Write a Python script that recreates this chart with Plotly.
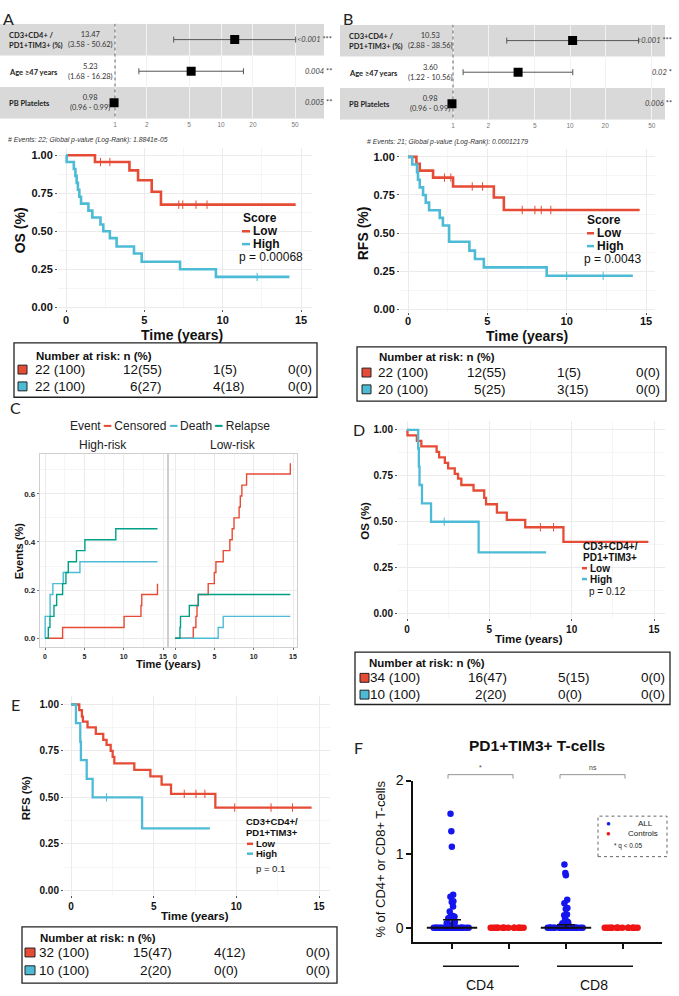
import plotly.graph_objects as go

W, H = 679, 996
RED = '#E64B35'
CYAN = '#4DBBD5'
GREEN = '#00A087'
SANS = 'Liberation Sans, Arial, sans-serif'
CAL = 'Lato, Open Sans, sans-serif'

# ---------------- data ----------------
forest_vars = ['CD3+CD4+ /<br>PD1+TIM3+ (%)', 'Age ≥47 years', 'PB Platelets']
forest_rows = [1, 2, 3]
forest_ticks = [1, 2, 5, 10, 20, 50]
forestA_hr = [13.47, 5.23, 0.98]
forestA_lo = [3.58, 1.68, 0.96]
forestA_hi = [50.62, 16.28, 0.99]
forestA_p = ['<0.001', '0.004', '0.005']
forestA_star = ['***', '**', '**']
forestB_hr = [10.53, 3.60, 0.98]
forestB_lo = [2.88, 1.22, 0.96]
forestB_hi = [38.56, 10.56, 0.99]
forestB_p = ['<0.001', '0.02', '0.006']
forestB_star = ['***', '*', '**']
forestA_note = '# Events: 22; Global p-value (Log-Rank): 1.8841e-05'
forestB_note = '# Events: 21; Global p-value (Log-Rank): 0.00012179'

# Panel A: OS by score
A_low_t = [0, 1.85, 4.05, 4.6, 5.47, 6.06]
A_low_s = [1.0, 0.955, 0.90, 0.835, 0.76, 0.675]
A_low_end = 14.66
A_low_cens_t = [2.2, 2.8, 7.2, 7.45, 8.3, 9.0]
A_low_cens_s = [0.955, 0.955, 0.675, 0.675, 0.675, 0.675]
A_high_t = [0, 0.04, 0.5, 0.6, 0.68, 0.76, 0.85, 0.96, 1.43, 1.68, 2.2, 2.38, 2.8, 3.23, 4.34, 4.83, 7.28, 9.57]
A_high_s = [1.0, 0.955, 0.909, 0.864, 0.818, 0.773, 0.727, 0.682, 0.636, 0.591, 0.545, 0.50, 0.455, 0.40, 0.354, 0.30, 0.25, 0.20]
A_high_end = 14.26
A_high_cens_t = [12.2]
A_high_cens_s = [0.20]

# Panel B: RFS by score
B_low_t = [0, 0.53, 0.74, 1.58, 2.84, 5.41, 6.04]
B_low_s = [1.0, 0.955, 0.91, 0.864, 0.806, 0.734, 0.652]
B_low_end = 14.6
B_low_cens_t = [2.3, 2.7, 4.05, 4.7, 7.2, 8.0, 8.4, 9.0]
B_low_cens_s = [0.864, 0.864, 0.806, 0.806, 0.652, 0.652, 0.652, 0.652]
B_high_t = [0, 0.27, 0.57, 0.63, 0.74, 0.95, 1.12, 1.33, 2.0, 2.2, 2.59, 3.87, 4.22, 4.78, 8.74]
B_high_s = [1.0, 0.95, 0.90, 0.85, 0.80, 0.75, 0.70, 0.65, 0.60, 0.55, 0.443, 0.385, 0.33, 0.275, 0.22]
B_high_end = 14.17
B_high_cens_t = [10.0, 12.3]
B_high_cens_s = [0.22, 0.22]

# Panel C: cumulative events
C_high_relapse_t = [0, 0.42, 0.63, 1.14, 1.48, 2.24, 2.66, 2.96, 4.0, 5.07, 9.0, 14.3]
C_high_relapse_v = [0, 0.045, 0.091, 0.136, 0.182, 0.227, 0.273, 0.318, 0.364, 0.409, 0.455, 0.455]
C_high_death_t = [0, 0.02, 0.65, 1.0, 2.32, 4.44, 14.3]
C_high_death_v = [0, 0.091, 0.182, 0.227, 0.273, 0.318, 0.318]
C_high_cens_t = [0, 2.24, 10.05, 12.2, 12.3, 14.3]
C_high_cens_v = [0, 0.045, 0.091, 0.136, 0.182, 0.227]
C_low_relapse_t = [0, 0.63, 0.7, 1.82, 2.96, 14.66]
C_low_relapse_v = [0, 0.045, 0.091, 0.136, 0.182, 0.182]
C_low_death_t = [0, 5.49, 6.13, 14.66]
C_low_death_v = [0, 0.045, 0.091, 0.091]
C_low_cens_t = [0, 2.32, 2.66, 2.8, 2.96, 4.22, 5.0, 5.2, 6.13, 6.97, 7.27, 7.5, 8.15, 8.3, 8.5, 9.1, 14.66]
C_low_cens_v = [0, 0.045, 0.091, 0.136, 0.182, 0.227, 0.273, 0.318, 0.364, 0.409, 0.455, 0.50, 0.545, 0.591, 0.636, 0.682, 0.727]
C_ticks_y = [0, 0.2, 0.4, 0.6]
C_ticks_x = [0, 5, 10, 15]

# Panel D: OS by CD3+CD4+/PD1+TIM3+
D_low_t = [0, 0.03, 0.6, 0.87, 1.8, 1.95, 2.3, 2.5, 2.9, 3.1, 3.3, 4.04, 4.69, 4.8, 5.46, 6.06, 7.18, 9.5]
D_low_s = [1.0, 0.97, 0.94, 0.91, 0.88, 0.85, 0.82, 0.79, 0.76, 0.735, 0.70, 0.67, 0.63, 0.595, 0.55, 0.51, 0.47, 0.39]
D_low_end = 14.66
D_low_cens_t = [8.1, 8.9]
D_low_cens_s = [0.47, 0.47]
D_high_t = [0, 0.68, 0.72, 0.76, 0.91, 1.46, 4.35]
D_high_s = [1.0, 0.9, 0.8, 0.7, 0.6, 0.5, 0.333]
D_high_end = 8.45
D_high_cens_t = [2.26]
D_high_cens_s = [0.5]

# Panel E: RFS by CD3+CD4+/PD1+TIM3+
E_low_t = [0, 0.5, 0.66, 0.72, 1.0, 1.5, 1.95, 2.15, 2.4, 2.52, 2.62, 3.83, 4.8, 5.48, 6.05, 8.73]
E_low_s = [1.0, 0.97, 0.935, 0.908, 0.877, 0.842, 0.81, 0.783, 0.75, 0.718, 0.683, 0.648, 0.613, 0.569, 0.519, 0.445]
E_low_end = 14.55
E_low_cens_t = [6.85, 7.56, 8.1, 9.9, 12.1, 13.4]
E_low_cens_s = [0.519, 0.519, 0.519, 0.445, 0.445, 0.445]
E_high_t = [0, 0.3, 0.56, 0.6, 0.95, 1.31, 4.3]
E_high_s = [1.0, 0.9, 0.8, 0.7, 0.6, 0.5, 0.333]
E_high_end = 8.4
E_high_cens_t = [2.15]
E_high_cens_s = [0.5]

# Risk tables
risk_A = [['22 (100)', '12(55)', '1(5)', '0(0)'], ['22 (100)', '6(27)', '4(18)', '0(0)']]
risk_B = [['22 (100)', '12(55)', '1(5)', '0(0)'], ['20 (100)', '5(25)', '3(15)', '0(0)']]
risk_D = [['34 (100)', '16(47)', '5(15)', '0(0)'], ['10 (100)', '2(20)', '0(0)', '0(0)']]
risk_E = [['32 (100)', '15(47)', '4(12)', '0(0)'], ['10 (100)', '2(20)', '0(0)', '0(0)']]

# Panel F: PD1+TIM3+ T-cells (% of CD4+ or CD8+)
F_cd4_all = [1.55, 1.31, 1.10, 0.45, 0.42, 0.36, 0.35, 0.29, 0.22, 0.17, 0.16, 0.15, 0.13, 0.08,
             0.06, 0.05, 0.04, 0, 0, 0, 0, 0, 0, 0, 0, 0, 0, 0, 0, 0, 0, 0, 0, 0, 0, 0, 0, 0,
             0, 0, 0, 0, 0, 0]
F_cd4_ctrl = [0, 0, 0, 0, 0, 0, 0, 0, 0, 0, 0, 0, 0, 0, 0]
F_cd8_all = [0.86, 0.745, 0.715, 0.38, 0.335, 0.268, 0.254, 0.18, 0.17, 0.12, 0.09, 0.076, 0.062,
             0.04, 0.03, 0, 0, 0, 0, 0, 0, 0, 0, 0, 0, 0, 0, 0, 0, 0, 0, 0, 0, 0, 0, 0, 0, 0,
             0, 0, 0, 0, 0, 0]
F_cd8_ctrl = [0, 0, 0, 0, 0, 0, 0, 0, 0, 0, 0, 0, 0, 0, 0]
F_pos = [0, 1, 2, 3]
F_all_median = [0, 0]
F_all_q3 = [0.11, 0.04]
F_yticks = [0, 1, 2]

# ---------------- helpers ----------------
fig = go.Figure()
layout = {}
annotations = []
shapes = []


def X(px):
    return px / W


def Y(py):
    return 1 - py / H


def names(n):
    return ('x' if n == 1 else f'x{n}'), ('y' if n == 1 else f'y{n}')


def keys(n):
    return ('xaxis' if n == 1 else f'xaxis{n}'), ('yaxis' if n == 1 else f'yaxis{n}')


def lin_range(p_lo, p_hi, va, pa, vb, pb):
    k = (vb - va) / (pb - pa)
    return [va + (p_lo - pa) * k, va + (p_hi - pa) * k]


def ann(x, y, text, size=12, xanchor='center', color='#111', family=SANS, angle=0, **kw):
    annotations.append(dict(x=X(x), y=Y(y), xref='paper', yref='paper', text=text, showarrow=False,
                            xanchor=xanchor, yanchor='middle', textangle=angle,
                            font=dict(size=size, color=color, family=family), **kw))


def pline(x0, y0, x1, y1, color='#111', width=1, dash='solid'):
    shapes.append(dict(type='line', xref='paper', yref='paper', x0=X(x0), y0=Y(y0), x1=X(x1), y1=Y(y1),
                       line=dict(color=color, width=width, dash=dash)))


def prect(x0, y0, x1, y1, line='#111', fill='rgba(0,0,0,0)', width=1, dash='solid'):
    shapes.append(dict(type='rect', xref='paper', yref='paper', x0=X(x0), y0=Y(y1), x1=X(x1), y1=Y(y0),
                       line=dict(color=line, width=width, dash=dash), fillcolor=fill))


# ---------------- forest plots ----------------
def forest(n, left, right, top, bottom, one_px, decade_px, hr, lo, hi, pv, stars,
           lab_x, hr_x, p_x, note, note_x, note_y, letter, letter_x):
    xa, ya = names(n)
    kx, ky = keys(n)
    lr = lin_range(left, right, 0, one_px, 1, one_px + decade_px)
    layout[kx] = dict(domain=[X(left), X(right)], type='log', range=lr, anchor=ya,
                      tickvals=forest_ticks, ticktext=[str(v) for v in forest_ticks],
                      tickfont=dict(size=6.5, color='#777', family=SANS), ticks='',
                      showgrid=True, gridcolor='#f2f2f2', gridwidth=1, zeroline=False,
                      showline=False, ticklabelstandoff=1)
    layout[ky] = dict(domain=[Y(bottom), Y(top)], range=[3.5, 0.5], anchor=xa, showgrid=False,
                      zeroline=False, showticklabels=False, ticks='')
    for r in (1, 3):
        shapes.append(dict(type='rect', xref=f'{xa} domain', yref=ya, x0=0, x1=1, y0=r - 0.5, y1=r + 0.5,
                           fillcolor='#d9d9d9', line=dict(width=0), layer='below'))
    fig.add_trace(go.Scatter(x=[1, 1], y=[0.3, 3.5], mode='lines', xaxis=xa, yaxis=ya,
                             line=dict(color='#666', width=1, dash='dot'), showlegend=False,
                             hoverinfo='skip', cliponaxis=False))
    fig.add_trace(go.Scatter(
        x=hr, y=forest_rows, mode='markers', xaxis=xa, yaxis=ya, showlegend=False, hoverinfo='skip',
        marker=dict(symbol='square', size=9, color='black'),
        error_x=dict(type='data', symmetric=False, array=[h - m for h, m in zip(hi, hr)],
                     arrayminus=[m - l for m, l in zip(hr, lo)], color='#555', thickness=1, width=3)))
    row_px = [(top + (bottom - top) * (i + 0.5) / 3) for i in range(3)]
    for i in range(3):
        ann(lab_x, row_px[i] + 1, f'<b>{forest_vars[i]}</b>', size=7.5, xanchor='left', family=CAL,
            color='#222', align='left')
        ann(hr_x, row_px[i], f'{hr[i]:.2f}<br>({lo[i]:.2f} - {hi[i]:.2f})', size=7.5, family=CAL,
            color='#333')
        ann(p_x, row_px[i], f'<i>{pv[i]}</i> {stars[i]}', size=7.5, xanchor='right', family=CAL,
            color='#444')
    ann(note_x, note_y, f'<i>{note}</i>', size=6.8, xanchor='left', family=SANS, color='#333')
    ann(letter_x, 11, letter, size=16, xanchor='left', family=CAL, color='#222')


forest(1, 0, 324, 16, 112, 115, 106, forestA_hr, forestA_lo, forestA_hi, forestA_p, forestA_star,
       7, 90, 334, forestA_note, 6, 134, 'A', 1)
forest(2, 340, 665, 17, 113, 453, 117, forestB_hr, forestB_lo, forestB_hi, forestB_p, forestB_star,
       347, 430, 674, forestB_note, 365, 136, 'B', 341)


# ---------------- KM plots ----------------
def km_axes(n, l, r, t, b, x0, x15, y0, y1, tsize, standoff=0):
    xa, ya = names(n)
    kx, ky = keys(n)
    tf = dict(family=SANS, size=tsize, color='#111', weight='bold')
    layout[kx] = dict(domain=[X(l), X(r)], range=lin_range(l, r, 0, x0, 15, x15), anchor=ya,
                      tickvals=[0, 5, 10, 15], showgrid=True, gridcolor='#ebebeb', zeroline=False,
                      minor=dict(dtick=2.5, tick0=0, showgrid=True, gridcolor='#f5f5f5'),
                      ticks='outside', ticklen=2, tickcolor='#555', showline=False, tickfont=tf,
                      ticklabelstandoff=standoff)
    layout[ky] = dict(domain=[Y(b), Y(t)], range=lin_range(b, t, 0, y0, 1, y1), anchor=xa,
                      tickvals=[0, 0.25, 0.5, 0.75, 1.0],
                      ticktext=['0.00', '0.25', '0.50', '0.75', '1.00'],
                      showgrid=True, gridcolor='#ebebeb', zeroline=False,
                      minor=dict(dtick=0.125, tick0=0, showgrid=True, gridcolor='#f5f5f5'),
                      ticks='outside', ticklen=2, tickcolor='#555', showline=False, tickfont=tf)


def km_curve(n, t, s, end, color, ct=None, cs=None, width=2.6):
    xa, ya = names(n)
    xs = list(t) + ([end] if end is not None else [])
    ys = list(s) + ([s[-1]] if end is not None else [])
    fig.add_trace(go.Scatter(x=xs, y=ys, mode='lines', xaxis=xa, yaxis=ya, showlegend=False,
                             hoverinfo='skip', line=dict(color=color, width=width, shape='hv')))
    if ct:
        fig.add_trace(go.Scatter(x=ct, y=cs, mode='markers', xaxis=xa, yaxis=ya, showlegend=False,
                                 hoverinfo='skip',
                                 marker=dict(symbol='line-ns-open', size=6, color=color,
                                             line=dict(color=color, width=1))))


km_axes(3, 58, 312, 142, 305, 66, 301, 303, 149, 11, -2)
km_curve(3, A_low_t, A_low_s, A_low_end, RED, A_low_cens_t, A_low_cens_s)
km_curve(3, A_high_t, A_high_s, A_high_end, CYAN, A_high_cens_t, A_high_cens_s)

km_axes(4, 400, 655, 143, 308, 408, 646, 305, 150.7, 11, -3)
km_curve(4, B_low_t, B_low_s, B_low_end, RED, B_low_cens_t, B_low_cens_s)
km_curve(4, B_high_t, B_high_s, B_high_end, CYAN, B_high_cens_t, B_high_cens_s)

km_axes(7, 398, 665, 418, 617, 407, 654, 613, 427, 10)
km_curve(7, D_low_t, D_low_s, D_low_end, RED, D_low_cens_t, D_low_cens_s, width=2.3)
km_curve(7, D_high_t, D_high_s, D_high_end, CYAN, D_high_cens_t, D_high_cens_s, width=2.3)

km_axes(8, 64, 330, 696, 898, 71, 319, 893, 705, 10)
km_curve(8, E_low_t, E_low_s, E_low_end, RED, E_low_cens_t, E_low_cens_s, width=2.3)
km_curve(8, E_high_t, E_high_s, E_high_end, CYAN, E_high_cens_t, E_high_cens_s, width=2.3)

# KM axis titles
ann(20, 225, '<b>OS (%)</b>', size=14, angle=-90)
ann(182, 331, '<b>Time (years)</b>', size=14)
ann(363, 228, '<b>RFS (%)</b>', size=14, angle=-90)
ann(527, 332, '<b>Time (years)</b>', size=14)
ann(365, 519, '<b>OS (%)</b>', size=11.5, angle=-90)
ann(529, 639, '<b>Time (years)</b>', size=11.5)
ann(26, 800, '<b>RFS (%)</b>', size=11.5, angle=-90)
ann(195, 919, '<b>Time (years)</b>', size=11.5)


# KM legends
def km_legend(x, ys, title_lines, dash_x, p_text, p_x, p_y, size):
    for (txt, yy) in zip(title_lines, ys[:len(title_lines)]):
        ann(x, yy, f'<b>{txt}</b>', size=size, xanchor='left')
    ylow, yhigh = ys[len(title_lines)], ys[len(title_lines) + 1]
    pline(dash_x[0], ylow, dash_x[1], ylow, RED, 2.5)
    pline(dash_x[0], yhigh, dash_x[1], yhigh, CYAN, 2.5)
    ann(dash_x[1] + 1, ylow, '<b>Low</b>', size=size, xanchor='left')
    ann(dash_x[1] + 1, yhigh, '<b>High</b>', size=size, xanchor='left')
    ann(p_x, p_y, p_text, size=size, xanchor='left')


km_legend(241, [213, 226, 239], ['Score'], (242, 250), 'p = 0.00068', 237, 252, 12)
km_legend(585, [215, 228, 241], ['Score'], (587, 594), 'p = 0.0043', 582, 254, 12)
km_legend(581, [545, 556, 567, 578], ['CD3+CD4+/', 'PD1+TIM3+'], (582, 587), 'p = 0.12', 587, 591, 10)
km_legend(244, [823, 835, 846, 856], ['CD3+CD4+/', 'PD1+TIM3+'], (247, 253), 'p = 0.1', 254, 871, 9.5)


# Risk tables
def risk_table(rows, box, title_xy, row_y, sq_x, cols):
    l, t, r, b = box
    prect(l, t, r, b, line='#222', width=1.3)
    ann(title_xy[0], title_xy[1], '<b>Number at risk: n (%)</b>', size=11.5, xanchor='left')
    for ri, (vals, yy, col) in enumerate(zip(rows, row_y, (RED, CYAN))):
        prect(sq_x[0], yy - 4.5, sq_x[1], yy + 4.5, line='#222', fill=col, width=1)
        anchors = ['left', 'right', 'left', 'right']
        for v, cx, a in zip(vals, cols, anchors):
            ann(cx, yy, v, size=13.5, xanchor=a)


risk_table(risk_A, (14, 339, 317, 394), (34, 352), (366, 383), (18, 27), (33, 164, 211, 314))
risk_table(risk_B, (357, 343, 666, 398), (377, 353), (369, 386), (362, 371), (376, 508, 555, 662))
risk_table(risk_D, (355, 652, 670, 705), (367, 663), (678, 695), (360, 369), (368, 509, 556, 667))
risk_table(risk_E, (22, 930, 337, 987), (38, 941), (956, 974), (25, 35), (37, 174, 212, 332))


# ---------------- Panel C ----------------
def c_axes(n, l, r, x0, x15, show_y):
    xa, ya = names(n)
    kx, ky = keys(n)
    layout[kx] = dict(domain=[X(l), X(r)], range=lin_range(l, r, 0, x0, 15, x15), anchor=ya,
                      tickvals=C_ticks_x, showgrid=True, gridcolor='#ebebeb', zeroline=False,
                      minor=dict(dtick=2.5, tick0=0, showgrid=True, gridcolor='#f5f5f5'),
                      ticks='outside', ticklen=2, tickcolor='#777', showline=True, mirror=True,
                      linecolor='#cfcfcf', linewidth=1.2,
                      tickfont=dict(family=SANS, size=7, color='#222', weight='bold'))
    layout[ky] = dict(domain=[Y(647), Y(451)], range=lin_range(647, 451, 0, 638, 0.6, 491.7),
                      anchor=xa, tickvals=C_ticks_y, ticktext=['0.0', '0.2', '0.4', '0.6'],
                      showticklabels=show_y, showgrid=True, gridcolor='#ebebeb', zeroline=False,
                      minor=dict(dtick=0.1, tick0=0, showgrid=True, gridcolor='#f5f5f5'),
                      ticks='outside' if show_y else '', ticklen=2, tickcolor='#777',
                      showline=True, mirror=True, linecolor='#cfcfcf', linewidth=1.2,
                      tickfont=dict(family=SANS, size=8, color='#222', weight='bold'))


c_axes(5, 40, 167, 45, 163, True)
c_axes(6, 169, 297, 175, 293, False)
for n, series in ((5, [(C_high_cens_t, C_high_cens_v, RED), (C_high_death_t, C_high_death_v, CYAN),
                       (C_high_relapse_t, C_high_relapse_v, GREEN)]),
                  (6, [(C_low_cens_t, C_low_cens_v, RED), (C_low_death_t, C_low_death_v, CYAN),
                       (C_low_relapse_t, C_low_relapse_v, GREEN)])):
    for t, v, col in series:
        km_curve(n, t, v, None, col, width=1.4)

ann(8, 404, 'C', size=16, xanchor='left', family=CAL, color='#222')
ann(170, 423, 'Event <span style="color:%s">━</span> Censored <span style="color:%s">━</span> Death '
    '<span style="color:%s">━</span> Relapse' % (RED, CYAN, GREEN), size=12, color='#222')
ann(103, 442, 'High-risk', size=12, color='#222')
ann(233, 442, 'Low-risk', size=12, color='#222')
ann(19, 550, '<b>Events (%)</b>', size=11, angle=-90)
ann(168, 664, '<b>Time (years)</b>', size=11)

# ---------------- Panel letters D/E/F ----------------
ann(351, 427, 'D', size=16, xanchor='left', family=CAL, color='#222')
ann(9, 705, 'E', size=16, xanchor='left', family=CAL, color='#222')
ann(352, 749, 'F', size=16, xanchor='left', family=CAL, color='#222')

# ---------------- Panel F ----------------
xa, ya = names(9)
kx, ky = keys(9)
layout[kx] = dict(domain=[X(413), X(662)], range=lin_range(413, 662, 0, 452, 3, 623), anchor=ya,
                  tickvals=F_pos, ticktext=['', '', '', ''], ticks='outside', ticklen=6, tickwidth=1.5,
                  tickcolor='#111', showline=True, linecolor='#111', linewidth=1.5, showgrid=False,
                  zeroline=False)
layout[ky] = dict(domain=[Y(945), Y(782)], range=lin_range(945, 782, 0, 931, 2, 782), anchor=xa,
                  tickvals=F_yticks, ticks='outside', ticklen=5, tickwidth=1.5, tickcolor='#111',
                  showline=True, linecolor='#111', linewidth=1.5, showgrid=False, zeroline=False,
                  tickfont=dict(family=SANS, size=14, color='#111'))
for pos, vals, col in zip(F_pos, (F_cd4_all, F_cd4_ctrl, F_cd8_all, F_cd8_ctrl),
                          ('#1515f0', '#f01515', '#1515f0', '#f01515')):
    fig.add_trace(go.Box(x=[pos] * len(vals), y=vals, boxpoints='all', jitter=1, pointpos=0,
                         width=0.66, fillcolor='rgba(0,0,0,0)', line=dict(width=0, color='rgba(0,0,0,0)'),
                         marker=dict(color=col, size=6.5), xaxis=xa, yaxis=ya, showlegend=False,
                         hoverinfo='skip'))
fig.add_trace(go.Scatter(x=[F_pos[0], F_pos[2]], y=F_all_median, mode='markers', xaxis=xa, yaxis=ya,
                         showlegend=False, hoverinfo='skip',
                         marker=dict(symbol='line-ew-open', size=36, color='#111',
                                     line=dict(color='#111', width=2)),
                         error_y=dict(type='data', symmetric=False,
                                      array=[q - m for q, m in zip(F_all_q3, F_all_median)],
                                      arrayminus=[0, 0], color='#111', thickness=1.5, width=9)))
layout['boxmode'] = 'overlay'

ann(537, 746, '<b>PD1+TIM3+ T-cells</b>', size=15.5)
ann(381, 862, '% of CD4+ or CD8+ T-cells', size=13, angle=-90)
# significance brackets
for x0, x1, lab in ((448, 513, '*'), (560, 625, 'ns')):
    shapes.append(dict(type='path', xref='paper', yref='paper',
                       path=f'M {X(x0)},{Y(780)} L {X(x0)},{Y(776)} L {X(x1)},{Y(776)} L {X(x1)},{Y(780)}',
                       line=dict(color='#777', width=0.8)))
    ann((x0 + x1) / 2, 769, lab, size=7, color='#444')
# group labels
pline(443, 970, 519, 970, '#111', 1.5)
pline(557, 970, 633, 970, '#111', 1.5)
ann(480, 989, 'CD4', size=14)
ann(594, 989, 'CD8', size=14)
# legend box
prect(598, 818, 667, 859, line='#666', width=1, dash='dot')
ann(608, 825, '<span style="color:#1515f0">●</span>', size=8)
ann(636, 825, 'ALL', size=8, xanchor='left', color='#222')
ann(608, 836, '<span style="color:#f01515">●</span>', size=8)
ann(626, 836, 'Controls', size=8, xanchor='left', color='#222')
ann(628, 848, '* q &lt; 0.05', size=6.5, color='#222')

fig.update_layout(width=W, height=H, margin=dict(l=0, r=0, t=0, b=0), paper_bgcolor='white',
                  plot_bgcolor='white', showlegend=False, annotations=annotations, shapes=shapes,
                  font=dict(family=SANS), **layout)
fig.write_html('out.html', config={'displayModeBar': False},
               post_script="document.body.style.margin='0';document.body.style.overflow='hidden';")
